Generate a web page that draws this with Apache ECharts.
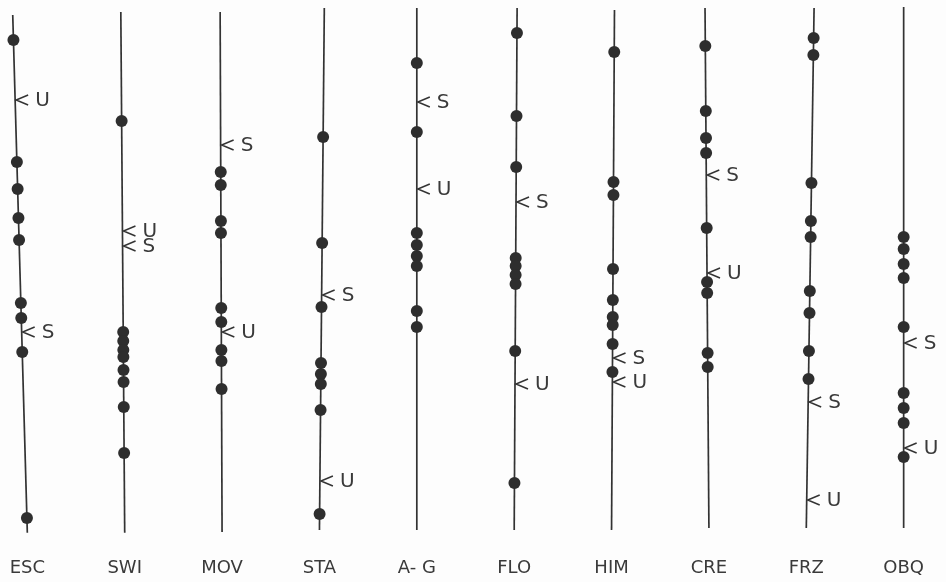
<!DOCTYPE html>
<html>
<head>
<meta charset="UTF-8">
<title></title>
<script src="https://cdn.jsdelivr.net/npm/echarts@6/dist/echarts.min.js"></script>
<style>
  html, body { margin: 0; padding: 0; background: #fdfdfd; }
  #main { width: 946px; height: 582px; }
</style>
</head>
<body>
<div id="main"></div>
<script>
// 各柱的名称
var categories = ['ESC', 'SWI', 'MOV', 'STA', 'A- G', 'FLO', 'HIM', 'CRE', 'FRZ', 'OBQ'];

// 每根竖线上的点（向下增大）
var dotsESC = [40, 162, 189, 218, 240, 303, 318, 352, 518];
var dotsSWI = [121, 332, 341, 350, 357, 370, 382, 407, 453];
var dotsMOV = [172, 185, 221, 233, 308, 322, 350, 361, 389];
var dotsSTA = [137, 243, 307, 363, 374, 384, 410, 514];
var dotsAG  = [63, 132, 233, 245, 256, 266, 311, 327];
var dotsFLO = [33, 116, 167, 258, 266, 275, 284, 351, 483];
var dotsHIM = [52, 182, 195, 269, 300, 317, 325, 344, 372];
var dotsCRE = [46, 111, 138, 153, 228, 282, 293, 353, 367];
var dotsFRZ = [38, 55, 183, 221, 237, 291, 313, 351, 379];
var dotsOBQ = [237, 249, 264, 278, 327, 393, 408, 423, 457];

// S / U 标记
var markS = [332, 246, 145, 295, 102, 202, 358, 175, 402, 343];
var markU = [100, 231, 332, 481, 189, 384, 382, 273, 500, 448];

// 竖线的上下端
var lineTop    = [15, 12, 12, 8, 8, 8, 10, 8, 8, 7];
var lineBottom = [533, 533, 532, 530, 530, 530, 530, 528, 528, 528];
// 竖线的倾斜（上端相对下端的偏移）
var lean = [0.15, 0.04, 0.02, -0.05, 0, -0.03, -0.03, 0.04, -0.08, 0];

var allDots = [dotsESC, dotsSWI, dotsMOV, dotsSTA, dotsAG, dotsFLO, dotsHIM, dotsCRE, dotsFRZ, dotsOBQ];

function xAt(i, y) {
  return i - lean[i] * (lineBottom[i] - y) / (lineBottom[i] - lineTop[i]);
}

var series = [];
for (var i = 0; i < categories.length; i++) {
  series.push({
    type: 'line',
    silent: true,
    symbol: 'none',
    lineStyle: { color: '#333', width: 1.7 },
    data: [[xAt(i, lineTop[i]), lineTop[i]], [i, lineBottom[i]]],
    z: 1
  });
}

var dotData = [];
allDots.forEach(function (arr, i) {
  arr.forEach(function (y) { dotData.push([xAt(i, y), y]); });
});
series.push({
  type: 'scatter',
  symbolSize: 12,
  itemStyle: { color: '#2e2e2e', opacity: 1 },
  data: dotData,
  z: 3
});

var markData = [];
markS.forEach(function (y, i) { markData.push([xAt(i, y), y, 'S']); });
markU.forEach(function (y, i) { markData.push([xAt(i, y), y, 'U']); });
series.push({
  type: 'custom',
  z: 4,
  renderItem: function (params, api) {
    var p = api.coord([api.value(0), api.value(1)]);
    var tipX = p[0] + 1;
    return {
      type: 'group',
      children: [{
        type: 'polyline',
        shape: { points: [[tipX + 12, p[1] - 5], [tipX, p[1]], [tipX + 12, p[1] + 5]] },
        style: { stroke: '#333', lineWidth: 1.5, fill: null }
      }, {
        type: 'text',
        style: {
          x: tipX + 19, y: p[1] + 1,
          text: api.value(2),
          font: '20px "DejaVu Sans"',
          fill: '#3a3a3a',
          verticalAlign: 'middle'
        }
      }]
    };
  },
  encode: { x: 0, y: 1 },
  data: markData
});

var myChart = echarts.init(document.getElementById('main'));
var option = {
  animation: false,
  backgroundColor: '#fdfdfd',
  grid: { left: 3, right: 18, top: 0, bottom: 50 },
  xAxis: {
    type: 'value',
    min: -0.25,
    max: 9.25,
    interval: 0.25,
    axisLine: { show: false },
    axisTick: { show: false },
    splitLine: { show: false },
    axisLabel: {
      margin: 27,
      color: '#3a3a3a',
      fontSize: 18,
      fontFamily: 'DejaVu Sans',
      showMinLabel: true,
      showMaxLabel: true,
      hideOverlap: false,
      formatter: function (v) {
        var k = Math.round(v);
        return Math.abs(v - k) < 1e-6 ? categories[k] : '';
      }
    }
  },
  yAxis: {
    type: 'value',
    inverse: true,
    min: 0,
    max: 532,
    show: false
  },
  series: series
};
myChart.setOption(option);
</script>
</body>
</html>
